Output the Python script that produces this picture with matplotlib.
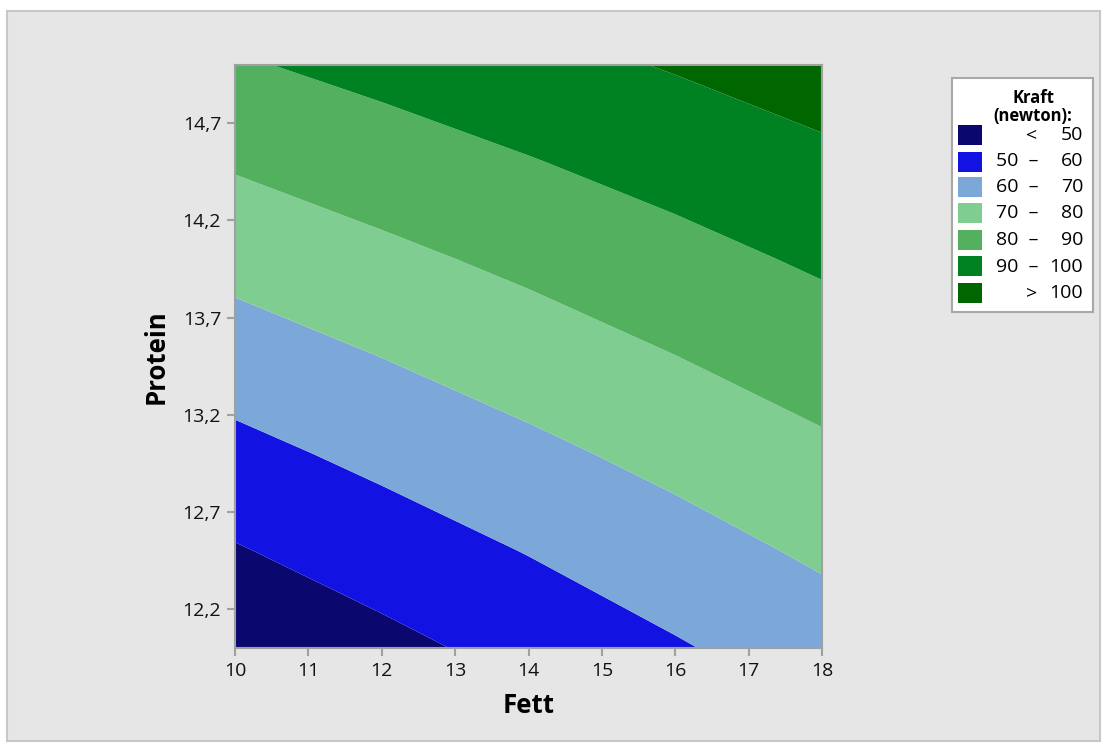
import numpy as np
import matplotlib
matplotlib.use("Agg")
import matplotlib.pyplot as plt
from matplotlib.patches import Rectangle

plt.rcParams['font.family'] = ['Open Sans', 'DejaVu Sans']

# grid (Kraft in newton at each Fett/Protein node)
fett = [10, 12, 14, 16, 18]
protein = [12.0, 12.5, 13.0, 13.5, 14.0, 14.5, 15.0]
kraft = [
    # fett: 10     12     14     16     18
    [41.4, 47.3, 53.2, 59.1, 65.0],   # protein 12.0
    [49.3, 54.9, 60.4, 66.0, 71.6],   # 12.5
    [57.2, 62.5, 67.7, 72.9, 78.2],   # 13.0
    [65.2, 70.1, 75.0, 79.9, 84.8],   # 13.5
    [73.1, 77.7, 82.2, 86.8, 91.4],   # 14.0
    [81.0, 85.3, 89.5, 93.7, 98.0],   # 14.5
    [89.0, 92.9, 96.8, 100.7, 104.6], # 15.0
]

levels = [0, 50, 60, 70, 80, 90, 100, 200]
level_labels = [("<", "50"), ("50  \u2013", "60"), ("60  \u2013", "70"), ("70  \u2013", "80"),
                ("80  \u2013", "90"), ("90  \u2013", "100"), (">", "100")]
colors = ["#0a086e", "#1212e2", "#7ba7d9", "#80cd91", "#52b05e", "#008222", "#006600"]

xticks = [10, 11, 12, 13, 14, 15, 16, 17, 18]
yticks = [12.2, 12.7, 13.2, 13.7, 14.2, 14.7]

W, H = 1107, 747
fig = plt.figure(figsize=(W / 100, H / 100), dpi=100, facecolor="white")

def px(x, y):
    return x / W, 1 - y / H

# grey panel behind everything
x0, y0 = px(7, 741)
x1, y1 = px(1100, 11)
fig.patches.append(Rectangle((x0, y0), x1 - x0, y1 - y0, transform=fig.transFigure,
                             facecolor="#e6e6e6", edgecolor="#c8c8c8", lw=1.5, zorder=-10))

l, b = px(235, 648)
r, t = px(822, 65)
ax = fig.add_axes([l, b, r - l, t - b])
ax.set_zorder(1)

F, P = np.meshgrid(fett, protein)
Z = np.array(kraft)
ax.contourf(F, P, Z, levels=levels, colors=colors, antialiased=True)

ax.set_xlim(10, 18)
ax.set_ylim(12.0, 15.0)
ax.set_xticks(xticks)
ax.set_xticklabels([str(v) for v in xticks])
ax.set_yticks(yticks)
ax.set_yticklabels([("%.1f" % v).replace(".", ",") for v in yticks])

for s in ax.spines.values():
    s.set_color("#a0a0a0")
    s.set_linewidth(1.5)
ax.tick_params(length=6, width=1.5, color="#a0a0a0", labelsize=14, pad=4, labelcolor="#111111")

ax.set_xlabel("Fett", fontsize=18.5, fontweight="bold", labelpad=9)
ax.set_ylabel("Protein", fontsize=18.5, fontweight="bold", labelpad=9)

# legend drawn by hand, Minitab style
bx0, by0 = px(952, 312)
bx1, by1 = px(1093, 78)
fig.patches.append(Rectangle((bx0, by0), bx1 - bx0, by1 - by0, transform=fig.transFigure,
                             facecolor="white", edgecolor="#a8a8a8", lw=1.5, zorder=2))
fig.text(*px(1033, 98), "Kraft", ha="center", va="center", fontsize=12, fontweight="bold", zorder=3)
fig.text(*px(1033, 116), "(newton):", ha="center", va="center", fontsize=12, fontweight="bold", zorder=3)

row_y = [135, 161.5, 187, 213, 240, 266.5, 293]
for yy, c, (lab_l, lab_r) in zip(row_y, colors, level_labels):
    sx, sy = px(958, yy + 10)
    sw = 24 / W
    sh = 20 / H
    fig.patches.append(Rectangle((sx, sy), sw, sh, transform=fig.transFigure,
                                 facecolor=c, edgecolor="none", zorder=3))
    if lab_l in ("<", ">"):
        fig.text(*px(1032, yy), lab_l, ha="center", va="center", fontsize=14, zorder=3)
    else:
        fig.text(*px(1038, yy), lab_l, ha="right", va="center", fontsize=14, zorder=3)
    fig.text(*px(1083, yy), lab_r, ha="right", va="center", fontsize=14, zorder=3)

fig.savefig("out.png", dpi=100, facecolor=fig.get_facecolor())
